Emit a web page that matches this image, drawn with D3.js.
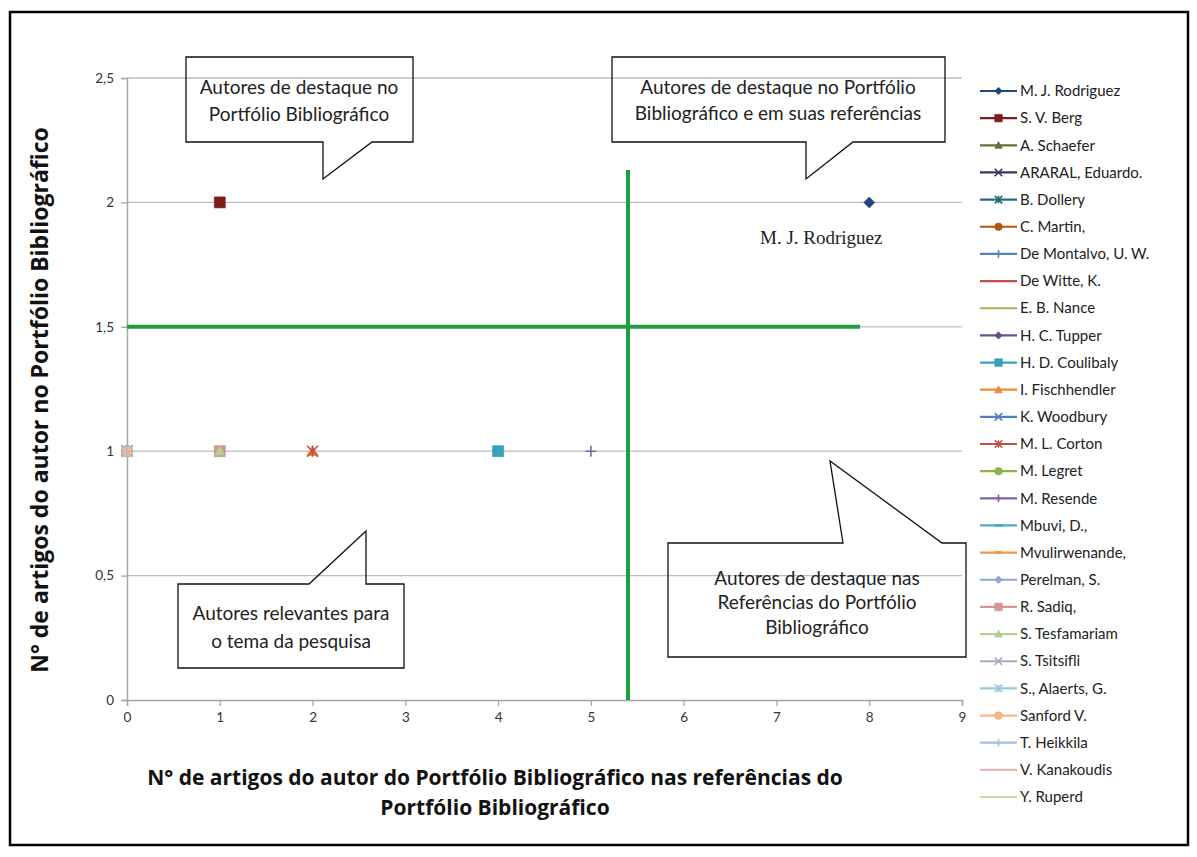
<!DOCTYPE html>
<html><head><meta charset="utf-8">
<script src="https://cdn.jsdelivr.net/npm/d3@7"></script>
<style>
body{margin:0;background:#fff;}
svg{display:block;}
text{font-family:Lato,"Open Sans",sans-serif;}
</style></head>
<body><svg id="c" width="1197" height="857"></svg>
<script>
// ---------- data ----------
const authors = ["M. J. Rodriguez","S. V. Berg","A. Schaefer","ARARAL, Eduardo.","B. Dollery","C. Martin,","De Montalvo, U. W.","De Witte, K.","E. B. Nance","H. C. Tupper","H. D. Coulibaly","I. Fischhendler","K. Woodbury","M. L. Corton","M. Legret","M. Resende","Mbuvi, D.,","Mvulirwenande,","Perelman, S.","R. Sadiq,","S. Tesfamariam","S. Tsitsifli","S., Alaerts, G.","Sanford V.","T. Heikkila","V. Kanakoudis","Y. Ruperd"];
// x: articles in the references of the portfolio; y: articles in the portfolio
const refArticles = [8,1,0,0,0,0,0,0,0,0,4,2,0,2,0,5,0,0,0,1,1,0,0,0,0,0,0];
const pbArticles  = [2,2,1,1,1,1,1,1,1,1,1,1,1,1,1,1,1,1,1,1,1,1,1,1,1,1,1];
const colors = ["#1F497D","#7B1F1C","#5F7530","#3F3163","#276A7C","#B65708","#4F81BD","#C0504D","#9BBB59","#6A4F8E","#31A5C0","#F08A2C","#4F81BD","#C0504D","#8CB546","#8064A2","#4BACC6","#F79646","#8EAADB","#D99694","#B9CF8C","#B3A2C7","#93CDDD","#F9B584","#A7BFE0","#E6B9B8","#C9DBA8"];
const markers = ["diamond","square","triangle","x","asterisk","circle","plus","none","none","diamond","square","triangle","x","asterisk","circle","plus","dash","dash","diamond","square","triangle","x","asterisk","circle","plus","none","none"];
const xTicks = [0,1,2,3,4,5,6,7,8,9];
const yTicks = [0,0.5,1,1.5,2,2.5];
const yTickLabels = ["0","0,5","1","1,5","2","2,5"];
const xTitle = ["N° de artigos do autor do Portfólio Bibliográfico nas referências do","Portfólio Bibliográfico"];
const yTitle = "N° de artigos do autor no Portfólio Bibliográfico";
const dividerH = {y:1.5, x0:0, x1:7.9};
const dividerV = {x:5.4, y0:0, y1:2.13};
const calloutTexts = [
  ["Autores de destaque no","Portfólio Bibliográfico"],
  ["Autores de destaque no Portfólio","Bibliográfico e em suas referências"],
  ["Autores relevantes para","o tema da pesquisa"],
  ["Autores de destaque nas","Referências do Portfólio","Bibliográfico"]
];
const pointLabel = {name:"M. J. Rodriguez", x:8, y:2};

// ---------- layout ----------
const svg = d3.select("#c");
const L = 127, R = 962, T = 78, B = 700;
const x = d3.scaleLinear().domain([0,9]).range([L,R]);
const y = d3.scaleLinear().domain([0,2.5]).range([B,T]);

// outer border
svg.append("rect").attr("x",10).attr("y",12).attr("width",1178).attr("height",833)
  .attr("fill","#fff").attr("stroke","#000").attr("stroke-width",2.5);

// gridlines
svg.append("g").selectAll("line").data(yTicks.filter(d=>d>0)).join("line")
  .attr("x1",L).attr("x2",R).attr("y1",d=>y(d)).attr("y2",d=>y(d))
  .attr("stroke","#BDBDBD").attr("stroke-width",1.3);

// axes
const yAxis = d3.axisLeft(y).tickValues(yTicks).tickFormat((d,i)=>yTickLabels[i]).tickSize(6).tickPadding(7);
const gy = svg.append("g").attr("transform",`translate(${L},0)`).call(yAxis);
const xAxis = d3.axisBottom(x).tickValues(xTicks).tickFormat(d3.format("d")).tickSize(6).tickPadding(6);
const gx = svg.append("g").attr("transform",`translate(0,${B})`).call(xAxis);
[gx,gy].forEach(g=>{
  g.select(".domain").attr("stroke","#A6A6A6").attr("stroke-width",1.5);
  g.selectAll(".tick line").attr("stroke","#A6A6A6").attr("stroke-width",1.3);
  g.selectAll(".tick text").attr("fill","#333").style("font-size","13.5px").style("font-family","Lato,sans-serif");
});
gy.selectAll(".tick text").attr("dy","0.32em");

// divider lines (green)
svg.append("line").attr("x1",x(dividerH.x0)).attr("x2",x(dividerH.x1))
  .attr("y1",y(dividerH.y)).attr("y2",y(dividerH.y)).attr("stroke","#1E9E3E").attr("stroke-width",4);
svg.append("line").attr("x1",x(dividerV.x)).attr("x2",x(dividerV.x))
  .attr("y1",y(dividerV.y0)).attr("y2",y(dividerV.y1)).attr("stroke","#1E9E3E").attr("stroke-width",4);

// marker drawing
function markerPath(type, s){
  const h = s/2;
  switch(type){
    case "diamond": return `M0,${-h}L${h},0L0,${h}L${-h},0Z`;
    case "square": return `M${-h},${-h}H${h}V${h}H${-h}Z`;
    case "triangle": return `M0,${-h}L${h},${h*0.8}L${-h},${h*0.8}Z`;
    case "circle": return d3.arc()({innerRadius:0,outerRadius:h,startAngle:0,endAngle:2*Math.PI});
    case "x": return `M${-h},${-h}L${h},${h}M${h},${-h}L${-h},${h}`;
    case "asterisk": return `M${-h},${-h}L${h},${h}M${h},${-h}L${-h},${h}M0,${-h}V${h}`;
    case "plus": return `M${-h},0H${h}M0,${-h}V${h}`;
    case "dash": return `M${-h},0H${h}`;
    default: return "";
  }
}
const stroked = t => t==="x"||t==="asterisk"||t==="plus"||t==="dash";
function drawMarker(g, type, color, s){
  if(type==="none") return;
  const p = g.append("path").attr("d",markerPath(type,s));
  if(stroked(type)) p.attr("fill","none").attr("stroke",color).attr("stroke-width",type==="dash"?3:1.6);
  else p.attr("fill",color).attr("stroke",d3.color(color).darker(0.3)).attr("stroke-width",0.6);
}

// points
const pts = svg.append("g");
authors.forEach((a,i)=>{
  const g = pts.append("g").attr("transform",`translate(${x(refArticles[i])},${y(pbArticles[i])})`);
  drawMarker(g, markers[i], colors[i], 11);
});

// point label
svg.append("text").attr("x",x(pointLabel.x)-48).attr("y",y(pointLabel.y)+42)
  .attr("text-anchor","middle").style("font-family","'Liberation Serif',serif").style("font-size","19px")
  .attr("fill","#222").text(pointLabel.name);

// callouts
const calloutShapes = [
  "M186,57H413V142H372L323,179V142H186Z",
  "M612,57H945V142H853L806,179V142H612Z",
  "M178,584H309L366,531V584H404V668H178Z",
  "M668,543H843L830,461L942,543H966V657H668Z"
];
const calloutPos = [[299,87,27],[778,87,26.5],[291,613,28],[817,578,24.5]];
calloutShapes.forEach((d,i)=>{
  svg.append("path").attr("d",d).attr("fill","none").attr("stroke","#111").attr("stroke-width",1.3);
  const [cx,cy,lh] = calloutPos[i];
  calloutTexts[i].forEach((t,j)=>{
    svg.append("text").attr("x",cx).attr("y",cy+j*lh).attr("dy","0.35em").attr("text-anchor","middle")
      .style("font-size","19px").attr("fill","#222").text(t);
  });
});

// axis titles
xTitle.forEach((t,j)=>{
  svg.append("text").attr("x",495).attr("y",778+j*30).attr("dy","0.35em").attr("text-anchor","middle")
    .style("font-family","'Open Sans',sans-serif")
    .style("font-size","21px").style("font-weight","bold").attr("fill","#111").text(t);
});
svg.append("text").attr("transform","translate(40,400) rotate(-90)").attr("dy","0.35em").attr("text-anchor","middle")
  .style("font-family","'Open Sans',sans-serif")
  .style("font-size","23px").style("font-weight","bold").attr("fill","#111").text(yTitle);

// legend
const leg = svg.append("g");
const step = (797-91)/26;
authors.forEach((a,i)=>{
  const g = leg.append("g").attr("transform",`translate(980,${91+i*step})`);
  g.append("line").attr("x1",0).attr("x2",37).attr("stroke",colors[i]).attr("stroke-width",2.2);
  const m = g.append("g").attr("transform","translate(18.5,0)");
  drawMarker(m, markers[i], colors[i], 7.5);
  g.append("text").attr("x",40).attr("dy","0.35em").style("font-size","15px").attr("fill","#222").text(a);
});
</script></body></html>
